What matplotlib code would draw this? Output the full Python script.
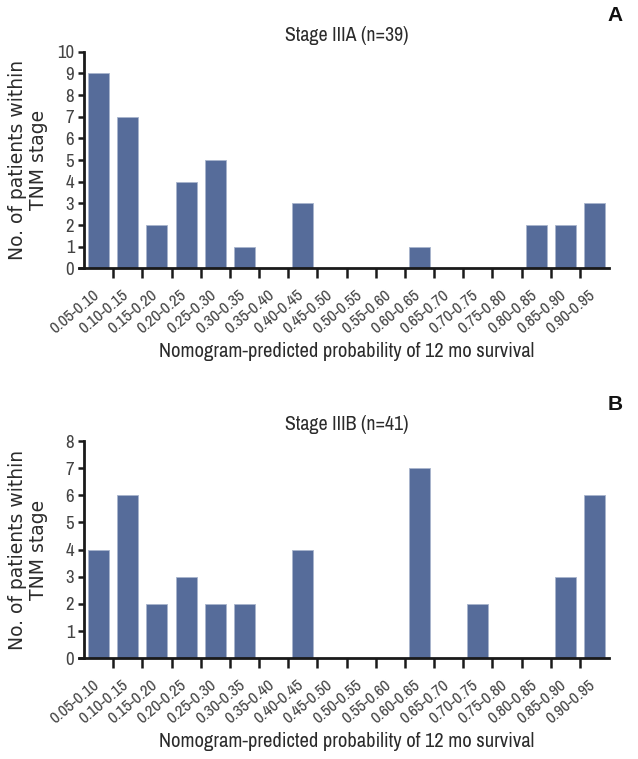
import matplotlib
matplotlib.use("Agg")
import matplotlib.pyplot as plt
import matplotlib.transforms as mtransforms
import numpy as np

categories = ["0.05-0.10", "0.10-0.15", "0.15-0.20", "0.20-0.25", "0.25-0.30",
              "0.30-0.35", "0.35-0.40", "0.40-0.45", "0.45-0.50", "0.50-0.55",
              "0.55-0.60", "0.60-0.65", "0.65-0.70", "0.70-0.75", "0.75-0.80",
              "0.80-0.85", "0.85-0.90", "0.90-0.95"]
stage_iiia = [9, 7, 2, 4, 5, 1, 0, 3, 0, 0, 0, 1, 0, 0, 0, 2, 2, 3]
stage_iiib = [4, 6, 2, 3, 2, 2, 0, 4, 0, 0, 0, 7, 0, 2, 0, 0, 3, 6]
titles = ["Stage IIIA (n=39)", "Stage IIIB (n=41)"]
panel_letters = ["A", "B"]
ymax = [10, 8]
xlabel = "Nomogram-predicted probability of 12 mo survival"
ylabel = "No. of patients within\nTNM stage"

plt.rcParams['font.family'] = ['Archivo Narrow', 'Liberation Sans', 'DejaVu Sans']

BAR = "#566c9a"
TXT = "#2b2b2b"
AX = "#1a1a1a"

fig = plt.figure(figsize=(6.38, 7.59), dpi=100)
W, H = 638, 759

panels = [
    dict(vals=stage_iiia, top=51.8, bottom=268.3),
    dict(vals=stage_iiib, top=441.0, bottom=658.3),
]
left_px, right_px = 84, 609
axes = []

for i, p in enumerate(panels):
    h_px = p["bottom"] - p["top"]
    ax = fig.add_axes([left_px / W, 1 - p["bottom"] / H,
                       (right_px - left_px) / W, h_px / H])
    axes.append(ax)
    x = np.arange(len(categories))
    ax.bar(x, p["vals"], width=0.72, color=BAR, edgecolor="#a8b4cc", linewidth=0.6, zorder=2)
    ax.set_xlim(-0.5, len(categories) - 0.5)
    ax.set_ylim(0, ymax[i])
    ax.set_yticks(range(0, ymax[i] + 1))
    ax.tick_params(axis='y', direction='out', length=4, width=1.8, color=AX,
                   labelsize=13.5, labelcolor="#444444", pad=3)
    ax.set_xticks(x)
    ax.set_xticklabels(categories, rotation=40, ha='right', va='top',
                       rotation_mode='default', fontsize=12, color="#444444")
    ax.set_xticks(np.arange(0.5, len(categories) - 1, 1.0), minor=True)
    ax.tick_params(axis='x', which='major', length=0, pad=19 * 0.72)
    ax.tick_params(axis='x', which='minor', direction='out', length=7, width=1.8, color=AX)
    for s in ["top", "right"]:
        ax.spines[s].set_visible(False)
    for s in ["left", "bottom"]:
        ax.spines[s].set_linewidth(2)
        ax.spines[s].set_color(AX)
    ax.spines["bottom"].set_bounds(-0.68, len(categories) - 0.5)
    ax.set_title(titles[i], fontsize=13.5, color=TXT, pad=7.8)
    ax.set_xlabel(xlabel, fontsize=14.5, color=TXT, va='baseline')
    ax.xaxis.set_label_coords(0.5, -88.4 / h_px)
    ax.set_ylabel(ylabel, fontsize=13.5, color=TXT, ha='center', va='center',
                  linespacing=1.1, family=['DejaVu Sans'])
    ax.yaxis.label.set_rotation_mode('default')
    ax.yaxis.set_label_coords((28 - left_px) / (right_px - left_px), 0.5)
    fig.text(615 / W, 1 - (p["top"] - 36) / H, panel_letters[i], fontsize=15,
             fontweight='bold', ha='center', va='center', color="#111111",
             family=['Liberation Sans', 'DejaVu Sans'])

# size horizontal text to the measured extents of the reference (pixels)
fig.canvas.draw()
r = fig.canvas.get_renderer()
a0 = axes[0]
bb = a0.xaxis.label.get_window_extent(r)
xl_fs = a0.xaxis.label.get_fontsize() * 374 / bb.width
bb = a0.title.get_window_extent(r)
t_fs = a0.title.get_fontsize() * 123 / bb.width
bb = a0.get_xticklabels()[0].get_window_extent(r)
xt_fs = 12 * 55 / bb.width

for ax in axes:
    ax.xaxis.label.set_fontsize(xl_fs)
    ax.title.set_fontsize(t_fs)
    ax.tick_params(axis='x', which='major', labelsize=xt_fs)

fig.canvas.draw()
for ax in axes:
    offset = mtransforms.ScaledTranslation(3.4 / 100, 0, fig.dpi_scale_trans)
    for lab in ax.get_xticklabels():
        lab.set_transform(lab.get_transform() + offset)

fig.savefig("out.png", dpi=100, facecolor="white")
